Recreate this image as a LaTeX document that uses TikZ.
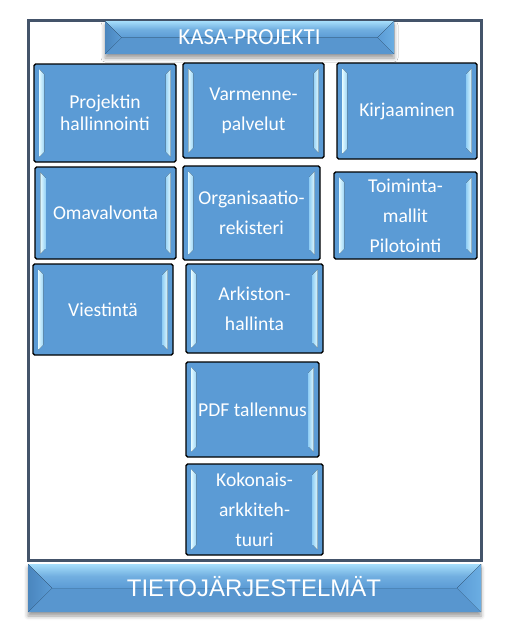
\documentclass[tikz,border=0pt]{standalone}
\usepackage{fontspec}
\setmainfont{Carlito}
\newfontfamily\arialfont{Liberation Sans}
\usetikzlibrary{calc,shadows.blur}
\definecolor{boxblue}{HTML}{5B9BD5}
\definecolor{framecol}{HTML}{44546A}
\definecolor{hilite}{HTML}{E2FAFF}
\definecolor{hilite2}{HTML}{9AD3F6}
\definecolor{toplight}{HTML}{A6DEFB}
\definecolor{leftdark}{HTML}{4A86BE}
\definecolor{rightlight}{HTML}{6BAEE3}
\definecolor{bottomcol}{HTML}{5896CF}
\tikzset{
  tile/.style={draw=black, line width=1.1pt, fill=boxblue, rounded corners=1.2pt,
    text=white, align=center, inner sep=0pt,
    font=\fontsize{14.7}{22.5}\selectfont},
  tighttile/.style={tile, font=\fontsize{14.7}{16.5}\selectfont},
  bannertext/.style={text=white, inner sep=0pt, anchor=base},
  framebox/.style={draw=framecol, line width=2.25pt, fill=white},
}
% name, x1, y1, x2, y2, style, text
\newcommand\tilenode[7]{%
  \node[#6, minimum width={(#4-#2)*0.75pt}, minimum height={(#5-#3)*0.75pt}]
    (#1) at ({(#2+#4)/2},{(#3+#5)/2}) {#7};
  \fill[left color=hilite, right color=hilite2]
    ($(#1.north west)+(6,6)$) -- ($(#1.north west)+(11,11)$) --
    ($(#1.south west)+(11,-11)$) -- ($(#1.south west)+(6,-6)$) -- cycle;
  \fill[left color=hilite2, right color=hilite]
    ($(#1.north east)+(-6,6)$) -- ($(#1.north east)+(-11,11)$) --
    ($(#1.south east)+(-11,-11)$) -- ($(#1.south east)+(-6,-6)$) -- cycle;
}
\newcommand\bevelbanner[4]{%
  \pgfmathsetmacro\bnd{(#4-#2)/2}%
  \pgfmathsetmacro\bym{(#2+#4)/2}%
  \path[fill=boxblue, blur shadow={shadow xshift=0pt, shadow yshift=-3pt,
      shadow blur radius=3pt, shadow opacity=40}] (#1,#2) rectangle (#3,#4);
  \fill[bottomcol] (#1,#4) -- (#3,#4) -- (#3-\bnd,\bym) -- (#1+\bnd,\bym) -- cycle;
  \fill[top color=toplight, bottom color=boxblue, middle color=boxblue!70!toplight]
    (#1,#2) -- (#3,#2) -- (#3-\bnd,\bym) -- (#1+\bnd,\bym) -- cycle;
  \fill[left color=leftdark, right color=boxblue] (#1,#2) -- (#1+\bnd,\bym) -- (#1,#4) -- cycle;
  \fill[left color=boxblue, right color=rightlight] (#3,#2) -- (#3-\bnd,\bym) -- (#3,#4) -- cycle;
}
\begin{document}
\begin{tikzpicture}[x=0.75pt,y=-0.75pt]
\useasboundingbox (0,0) rectangle (522,643);
% outer frame
\draw[framebox] (28,20) rectangle (481,560);
% top banner
\bevelbanner{105}{21}{394}{54}
\node[bannertext, font=\fontsize{17.2}{20}\selectfont] (kasa) at (249.5,44) {KASA-PROJEKTI};
% tiles
\tilenode{p1}{34}{64}{176}{162}{tighttile}{Projektin\\hallinnointi}
\tilenode{p2}{183}{63}{324}{158}{tile}{Varmenne-\\palvelut}
\tilenode{p3}{337}{63}{477}{159}{tile}{Kirjaaminen}
\tilenode{p4}{35}{167}{176}{259}{tile}{Omavalvonta}
\tilenode{p5}{183}{166}{320}{260}{tile}{Organisaatio-\\rekisteri}
\tilenode{p6}{334}{172}{477}{259}{tile}{Toiminta-\\mallit\\Pilotointi}
\tilenode{p7}{33}{264}{173}{355}{tile}{Viestintä}
\tilenode{p8}{186}{264}{323}{353}{tile}{Arkiston-\\hallinta}
\tilenode{p9}{186}{362}{319}{457}{tile}{PDF tallennus}
\tilenode{p10}{186}{464}{323}{555}{tile}{Kokonais-\\arkkiteh-\\tuuri}
% bottom banner
\bevelbanner{28}{564}{481}{612}
\node[bannertext, font=\arialfont\fontsize{18}{22}\selectfont] (tieto) at (254,596.7) {TIETOJÄRJESTELMÄT};
\end{tikzpicture}
\end{document}
